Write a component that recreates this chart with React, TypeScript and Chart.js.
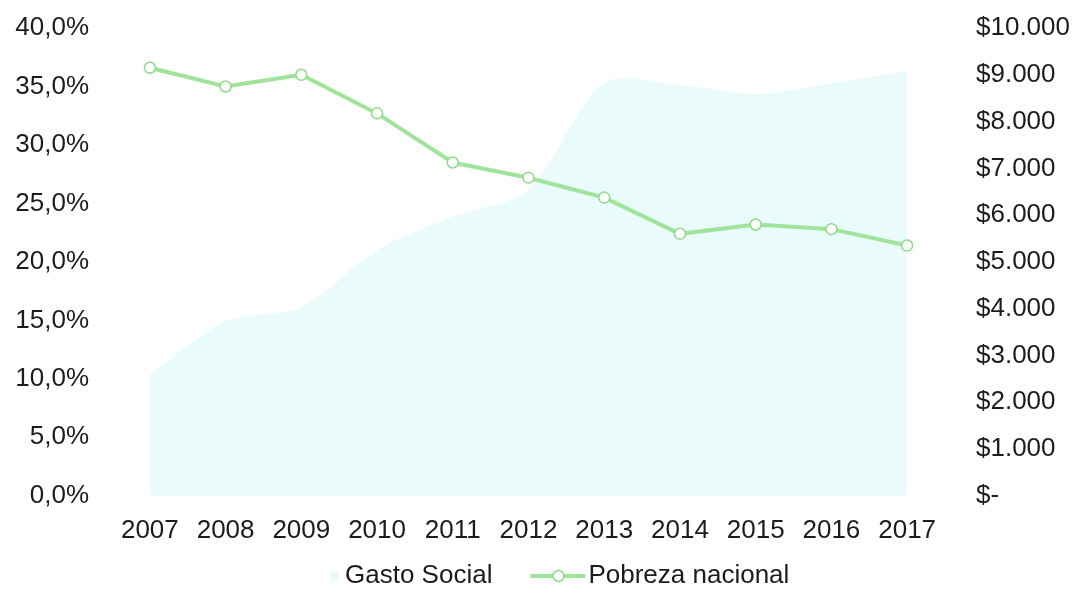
import React, { useEffect, useRef } from "react";
import { Chart, registerables } from "chart.js";

Chart.register(...registerables);

const years = ["2007", "2008", "2009", "2010", "2011", "2012", "2013", "2014", "2015", "2016", "2017"];
const gastoSocial = [2590, 3730, 4030, 5250, 5970, 6550, 8820, 8780, 8590, 8820, 9080];
const pobrezaNacional = [36.6, 35.0, 36.0, 32.7, 28.5, 27.2, 25.5, 22.4, 23.2, 22.8, 21.4];
const legendLabels = ["Gasto Social", "Pobreza nacional"];

const FONT = "'Liberation Sans', Arial, sans-serif";
const TEXT = "#1c1c1c";
const AREA = "#e9fbfb";
const LINE = "#a0e39a";
const POINT_BORDER = "#8fd98a";

const legendPlugin = {
  id: "customLegend",
  afterDraw(chart: any) {
    const ctx = chart.ctx;
    ctx.save();
    ctx.font = `26px ${FONT}`;
    ctx.textBaseline = "middle";
    ctx.fillStyle = TEXT;
    const y = chart.height - 17;
    let x = 330;
    ctx.fillStyle = AREA;
    ctx.fillRect(x, y - 4, 8, 9);
    x += 15;
    ctx.fillStyle = TEXT;
    ctx.fillText(legendLabels[0], x, y);
    x += ctx.measureText(legendLabels[0]).width + 38;
    ctx.strokeStyle = LINE;
    ctx.lineWidth = 4;
    ctx.beginPath();
    ctx.moveTo(x, y);
    ctx.lineTo(x + 55, y);
    ctx.stroke();
    ctx.beginPath();
    ctx.arc(x + 28, y, 5.5, 0, Math.PI * 2);
    ctx.fillStyle = "#ffffff";
    ctx.fill();
    ctx.lineWidth = 1.5;
    ctx.strokeStyle = POINT_BORDER;
    ctx.stroke();
    x += 58;
    ctx.fillStyle = TEXT;
    ctx.fillText(legendLabels[1], x, y);
    ctx.restore();
  },
};

export default function App() {
  const ref = useRef<HTMLCanvasElement | null>(null);
  useEffect(() => {
    if (!ref.current) return;
    const chart = new Chart(ref.current, {
      type: "line",
      data: {
        labels: years,
        datasets: [
          {
            label: legendLabels[1],
            data: pobrezaNacional,
            yAxisID: "y",
            borderColor: LINE,
            borderWidth: 4,
            pointRadius: 5.5,
            pointBackgroundColor: "#ffffff",
            pointBorderColor: POINT_BORDER,
            pointBorderWidth: 1.5,
            tension: 0,
            fill: false,
            order: 0,
          },
          {
            label: legendLabels[0],
            data: gastoSocial,
            yAxisID: "y1",
            backgroundColor: AREA,
            borderWidth: 0,
            borderColor: AREA,
            pointRadius: 0,
            tension: 0.3,
            fill: "origin",
            order: 1,
          },
        ],
      },
      options: {
        responsive: true,
        maintainAspectRatio: false,
        animation: false,
        layout: { padding: { top: 28, bottom: 28, left: 0, right: 0 } },
        plugins: { legend: { display: false }, tooltip: { enabled: false } },
        scales: {
          x: {
            offset: true,
            grid: { display: false, drawTicks: false },
            border: { display: false },
            ticks: { color: TEXT, font: { family: FONT, size: 26 }, padding: 19, maxRotation: 0 },
          },
          y: {
            position: "left",
            min: 0,
            max: 40,
            grid: { display: false, drawTicks: false },
            border: { display: false },
            ticks: {
              stepSize: 5,
              color: TEXT,
              padding: 23,
              font: { family: FONT, size: 26 },
              callback: (v: any) => Number(v).toFixed(1).replace(".", ",") + "%",
            },
            afterFit: (s: any) => {
              s.width = 112;
              s.paddingTop = 0;
              s.paddingBottom = 0;
            },
          },
          y1: {
            position: "right",
            min: 0,
            max: 10000,
            grid: { display: false, drawTicks: false },
            border: { display: false },
            ticks: {
              stepSize: 1000,
              color: TEXT,
              padding: 31,
              font: { family: FONT, size: 26 },
              callback: (v: any) => (Number(v) === 0 ? "$-" : "$" + Math.round(Number(v) / 1000) + ".000"),
            },
            afterFit: (s: any) => {
              s.width = 134;
              s.paddingTop = 0;
              s.paddingBottom = 0;
            },
          },
        },
      },
      plugins: [legendPlugin],
    });
    return () => chart.destroy();
  }, []);
  return (
    <div style={{ position: "fixed", left: 0, top: 0, width: 1079, height: 593, background: "#ffffff" }}>
      <canvas ref={ref} />
    </div>
  );
}
